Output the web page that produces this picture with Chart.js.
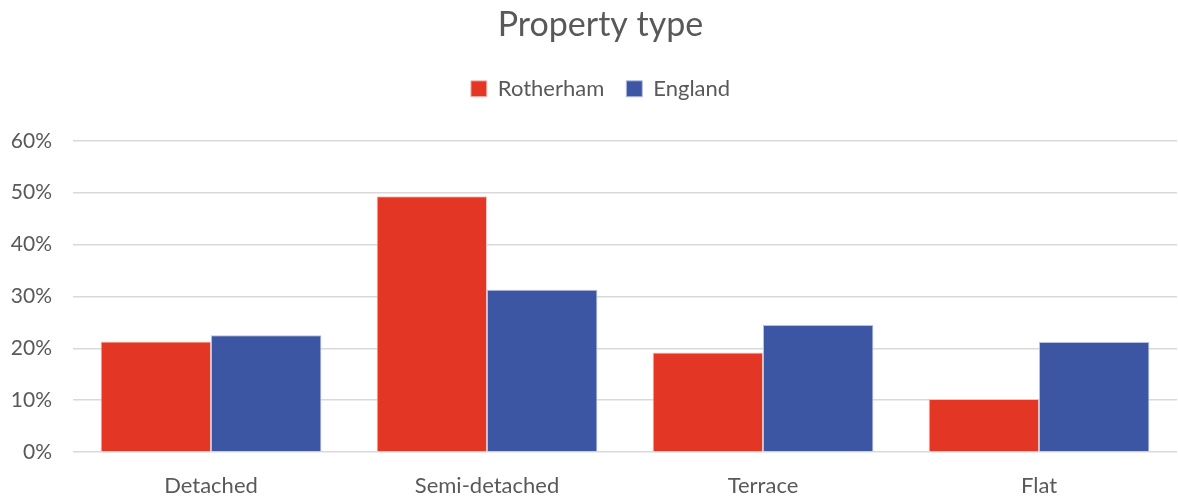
<!DOCTYPE html>
<html lang="en">
<head>
  <meta charset="UTF-8">
  <title>Property type</title>
  <script src="https://cdn.jsdelivr.net/npm/chart.js"></script>
  <style>
    html, body { margin: 0; padding: 0; background: #fff; }
    #wrap { width: 1178px; height: 497px; }
  </style>
</head>
<body>
  <div id="wrap"><canvas id="chart"></canvas></div>

  <script>
    const categories = ['Detached', 'Semi-detached', 'Terrace', 'Flat'];
    const rotherham = [21.3, 49.3, 19.2, 10.2];
    const england = [22.5, 31.3, 24.5, 21.2];
    const yTicks = [0, 10, 20, 30, 40, 50, 60];

    const grey = '#595959';
    Chart.defaults.font.family = 'Lato, "Open Sans", sans-serif';
    Chart.defaults.color = grey;

    // extra room under the legend, and title/legend a bit right of centre like the original
    const legendGap = {
      id: 'legendGap',
      beforeInit(chart) {
        const fit = chart.legend.fit;
        chart.legend.fit = function () {
          fit.call(this);
          this.height += 31;
        };
      },
      afterLayout(chart) {
        [chart.titleBlock, chart.legend].forEach(b => {
          if (!b) return;
          b.left += 12;
          b.right += 12;
        });
      }
    };

    new Chart(document.getElementById('chart'), {
      type: 'bar',
      data: {
        labels: categories,
        datasets: [
          { label: 'Rotherham', data: rotherham, backgroundColor: '#e43625', borderColor: '#f3c4bf', borderWidth: 1, categoryPercentage: 0.8, barPercentage: 1 },
          { label: 'England', data: england, backgroundColor: '#3c56a3', borderColor: '#b7c0e0', borderWidth: 1, categoryPercentage: 0.8, barPercentage: 1 }
        ]
      },
      options: {
        responsive: true,
        maintainAspectRatio: false,
        animation: false,
        layout: { padding: { top: 5, right: 1, left: 0, bottom: 0 } },
        plugins: {
          title: {
            display: true,
            text: 'Property type',
            font: { size: 34, weight: 'normal' },
            color: grey,
            padding: { top: 0, bottom: 10 }
          },
          legend: {
            labels: { font: { size: 22 }, boxWidth: 16, boxHeight: 16, padding: 22 }
          },
          tooltip: { enabled: false }
        },
        scales: {
          x: {
            grid: { display: false },
            border: { display: false },
            ticks: { font: { size: 22 }, padding: 13 },
            afterFit: s => { s.height = 45; }
          },
          y: {
            min: 0,
            max: 60,
            afterBuildTicks: s => { s.ticks = yTicks.map(v => ({ value: v })); },
            ticks: { font: { size: 21 }, padding: 21, callback: v => v + '%' },
            grid: { color: '#d9d9d9', lineWidth: 1.5, drawTicks: false },
            border: { display: false },
            afterFit: s => { s.width = 73; }
          }
        }
      },
      plugins: [legendGap]
    });
  </script>
</body>
</html>
